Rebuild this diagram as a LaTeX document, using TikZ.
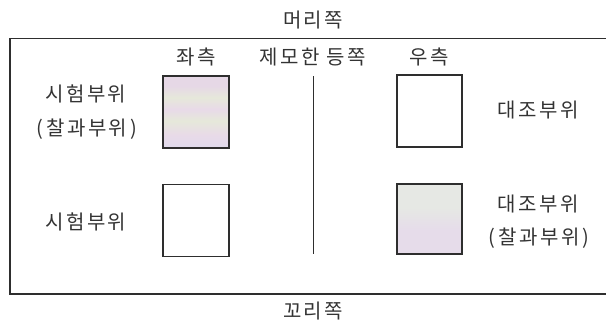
\documentclass[tikz,border=0pt]{standalone}
\usepackage{fontspec}
\newfontfamily\kr[LetterSpace=12]{Noto Sans CJK KR}
\definecolor{ink}{HTML}{333333}
\definecolor{lineg}{HTML}{2E2E2E}
\definecolor{irA}{HTML}{E6D8E6}
\definecolor{irB}{HTML}{E8DAE8}
\definecolor{irC}{HTML}{E6E8DA}
\definecolor{irD}{HTML}{E0DAEC}
\definecolor{irE}{HTML}{E6E8E4}
\definecolor{irF}{HTML}{E6DCEA}
\pgfdeclareverticalshading{iridA}{100bp}{color(0bp)=(irD); color(25bp)=(irD); color(34bp)=(irB); color(44bp)=(irC); color(52bp)=(irB); color(60bp)=(irC); color(68bp)=(irA); color(75bp)=(irA); color(100bp)=(irA)}
\pgfdeclareverticalshading{iridB}{100bp}{color(0bp)=(irF); color(25bp)=(irF); color(42bp)=(irF); color(58bp)=(irE); color(75bp)=(irE); color(100bp)=(irE)}
\newcommand{\pgap}{\hspace{3pt}}
\tikzset{
  lbl/.style={font=\kr\fontsize{20pt}{24pt}\selectfont, text=ink, inner sep=0pt, anchor=base},
  sq/.style={draw=lineg, line width=1.1pt, minimum width=66pt, minimum height=72pt, inner sep=0pt},
}
\begin{document}
\begin{tikzpicture}[x=1pt,y=-1pt]
\useasboundingbox (0,0) rectangle (606,325);
% outer frame (open to the right)
\coordinate (ftr) at (606,38.5);
\coordinate (ftl) at (10,38.5);
\coordinate (fbl) at (10,294);
\coordinate (fbr) at (606,294);
\draw[lineg, line width=1.3pt] (ftr) -- (ftl) -- (fbl) -- (fbr);
% labels top/bottom
\node[lbl] (head) at (313,27.2) {머리쪽};
\node[lbl] (tail) at (313,318.2) {꼬리쪽};
\node[lbl] (left) at (196,64.2) {좌측};
\node[lbl] (mid) at (313,64.2) {제모한 등쪽};
\node[lbl] (right) at (429,64.2) {우측};
% squares
\node[sq, shading=iridA] (tl) at (196,112) {};
\node[sq] (bl) at (196,220.5) {};
\node[sq, minimum width=65pt] (tr) at (429.5,111) {};
\node[sq, minimum width=65pt, minimum height=70pt, shading=iridB] (br) at (429.5,219) {};
% divider
\coordinate (vt) at (313,76);
\coordinate (vb) at (313,254);
\draw[lineg, line width=0.9pt] (vt) -- (vb);
% side labels
\node[lbl] (t1) at (86,101.2) {시험부위};
\node[lbl] (t2) at (87,135.2) {(\pgap 찰과부위\pgap)};
\node[lbl] (t3) at (86,229.2) {시험부위};
\node[lbl] (c1) at (538,117.2) {대조부위};
\node[lbl] (c2) at (538,211.2) {대조부위};
\node[lbl] (c3) at (539,244.2) {(\pgap 찰과부위\pgap)};
\end{tikzpicture}
\end{document}
